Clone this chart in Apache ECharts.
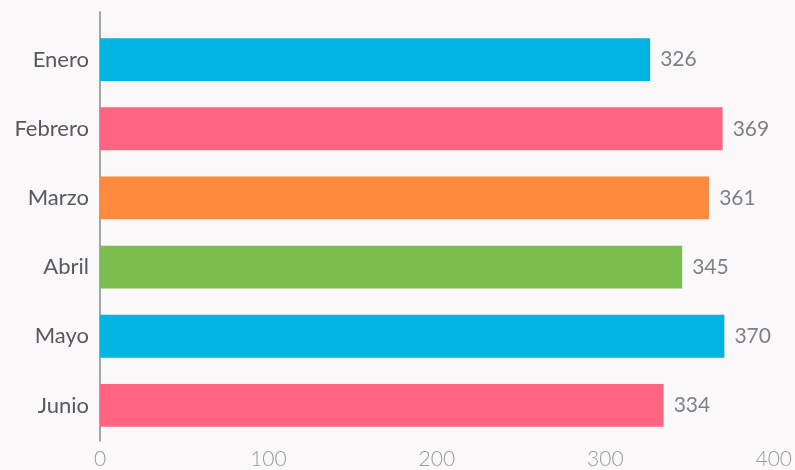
<!DOCTYPE html>
<html>
<head>
<meta charset="utf-8">
<script src="https://cdn.jsdelivr.net/npm/echarts@6/dist/echarts.min.js"></script>
<style>
  html, body { margin: 0; padding: 0; background: #faf8f9; }
  #chart { width: 795px; height: 470px; }
</style>
</head>
<body>
<div id="chart"></div>
<script>
// Monthly totals, January to June
const months = ['Enero', 'Febrero', 'Marzo', 'Abril', 'Mayo', 'Junio'];
const totals = [326, 369, 361, 345, 370, 334];
const barColors = ['#00b5e2', '#ff6480', '#ff8a3d', '#7bbe4e', '#00b5e2', '#ff6480'];
const xTicks = { min: 0, max: 400, interval: 100 };

const chart = echarts.init(document.getElementById('chart'));
chart.setOption({
  backgroundColor: '#faf8f9',
  animation: false,
  // grid 0 holds the bars; grid 1 is a slightly taller frame for the axis line and tick labels
  grid: [
    { left: 100, right: 20, top: 25, bottom: 30 },
    { left: 100, right: 20, top: 12, bottom: 24 }
  ],
  xAxis: [
    {
      gridIndex: 0,
      type: 'value',
      min: xTicks.min, max: xTicks.max, interval: xTicks.interval,
      show: false
    },
    {
      gridIndex: 1,
      type: 'value',
      min: xTicks.min, max: xTicks.max, interval: xTicks.interval,
      axisLine: { show: false },
      axisTick: { show: false },
      splitLine: { show: false },
      axisLabel: {
        color: '#969ba1',
        fontFamily: 'Lato',
        fontWeight: 300,
        fontSize: 21,
        margin: 8,
        showMinLabel: true,
        showMaxLabel: true
      }
    }
  ],
  yAxis: [
    {
      gridIndex: 0,
      type: 'category',
      data: months,
      inverse: true,
      axisLine: { show: false },
      axisTick: { show: false },
      axisLabel: {
        color: '#555a5e',
        fontFamily: 'Lato',
        fontSize: 22,
        margin: 11
      }
    },
    {
      gridIndex: 1,
      type: 'category',
      data: months,
      inverse: true,
      axisLine: { show: true, lineStyle: { color: '#858b93', width: 1.5 } },
      axisTick: { show: false },
      axisLabel: { show: false }
    }
  ],
  series: [{
    type: 'bar',
    xAxisIndex: 0,
    yAxisIndex: 0,
    data: totals.map((v, i) => ({ value: v, itemStyle: { color: barColors[i] } })),
    barCategoryGap: '38%',
    label: {
      show: true,
      position: 'right',
      distance: 10,
      color: '#7b8189',
      fontFamily: 'Lato',
      fontSize: 21
    }
  }]
});
</script>
</body>
</html>
